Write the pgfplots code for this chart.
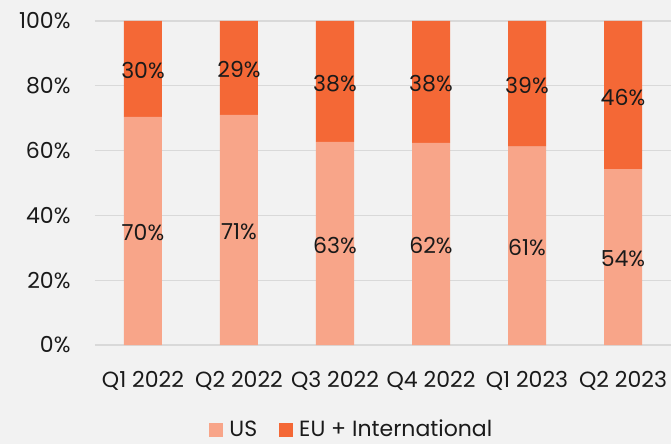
\documentclass[border=0pt]{standalone}
\usepackage{pgfplots}
\pgfplotsset{compat=1.18}
\usepackage{pgfplotstable}
\usepackage{fontspec}
\setmainfont{Poppins}
\definecolor{bg}{HTML}{F2F2F2}
\definecolor{gridc}{HTML}{D9D9D9}
\definecolor{usc}{HTML}{F8A589}
\definecolor{euc}{HTML}{F46836}
\definecolor{txt}{HTML}{1A1A1A}
\pgfplotstableread{
x us uslab eu eulab
0 70.4 70 29.6 30
1 71.0 71 29.0 29
2 62.7 63 37.3 38
3 62.4 62 37.6 38
4 61.2 61 38.8 39
5 54.3 54 45.7 46
}\data
\begin{document}
\fontsize{22bp}{26bp}\selectfont
\begin{tikzpicture}
\path[use as bounding box, fill=bg] (-95bp,-99bp) rectangle (576bp,345bp);
\begin{axis}[
  at={(0,0)}, anchor=south west,
  scale only axis, width=576bp, height=324bp,
  ybar stacked, bar width=38bp,
  xmin=-0.5, xmax=5.5, ymin=0, ymax=100,
  xtick=data,
  xticklabels={Q1 2022,Q2 2022,Q3 2022,Q4 2022,Q1 2023,Q2 2023},
  ytick={0,20,...,100},
  yticklabel={\pgfmathprintnumber{\tick}\%},
  /pgf/number format/assume math mode=true,
  ticklabel style={font=\fontsize{22bp}{26bp}\selectfont, text=txt},
  yticklabel style={xshift=-17bp},
  xticklabel style={yshift=-19bp},
  major tick length=0pt,
  axis line style={draw=none},
  ymajorgrids, grid style={gridc, line width=1.2bp},
  point meta=explicit symbolic,
  nodes near coords={\pgfplotspointmeta\%},
  every node near coord/.append style={anchor=center, yshift=-2bp, text=txt, font=\fontsize{22bp}{26bp}\selectfont},
  legend style={at={(0.446,-0.262)}, anchor=center, draw=none, fill=none,
    legend columns=-1, font=\fontsize{22bp}{26bp}\selectfont, text=txt,
    /tikz/every odd column/.append style={column sep=4bp},
    /tikz/every even column/.append style={column sep=20bp}},
  legend image code/.code={\fill[#1] (0bp,-7bp) rectangle (14bp,7bp);},
]
\addplot[fill=usc, draw=none]
  table[x=x, y=us, meta=uslab] {\data};
\addplot[fill=euc, draw=none]
  table[x=x, y=eu, meta=eulab] {\data};
\legend{US, EU + International}
\end{axis}
\end{tikzpicture}
\end{document}
